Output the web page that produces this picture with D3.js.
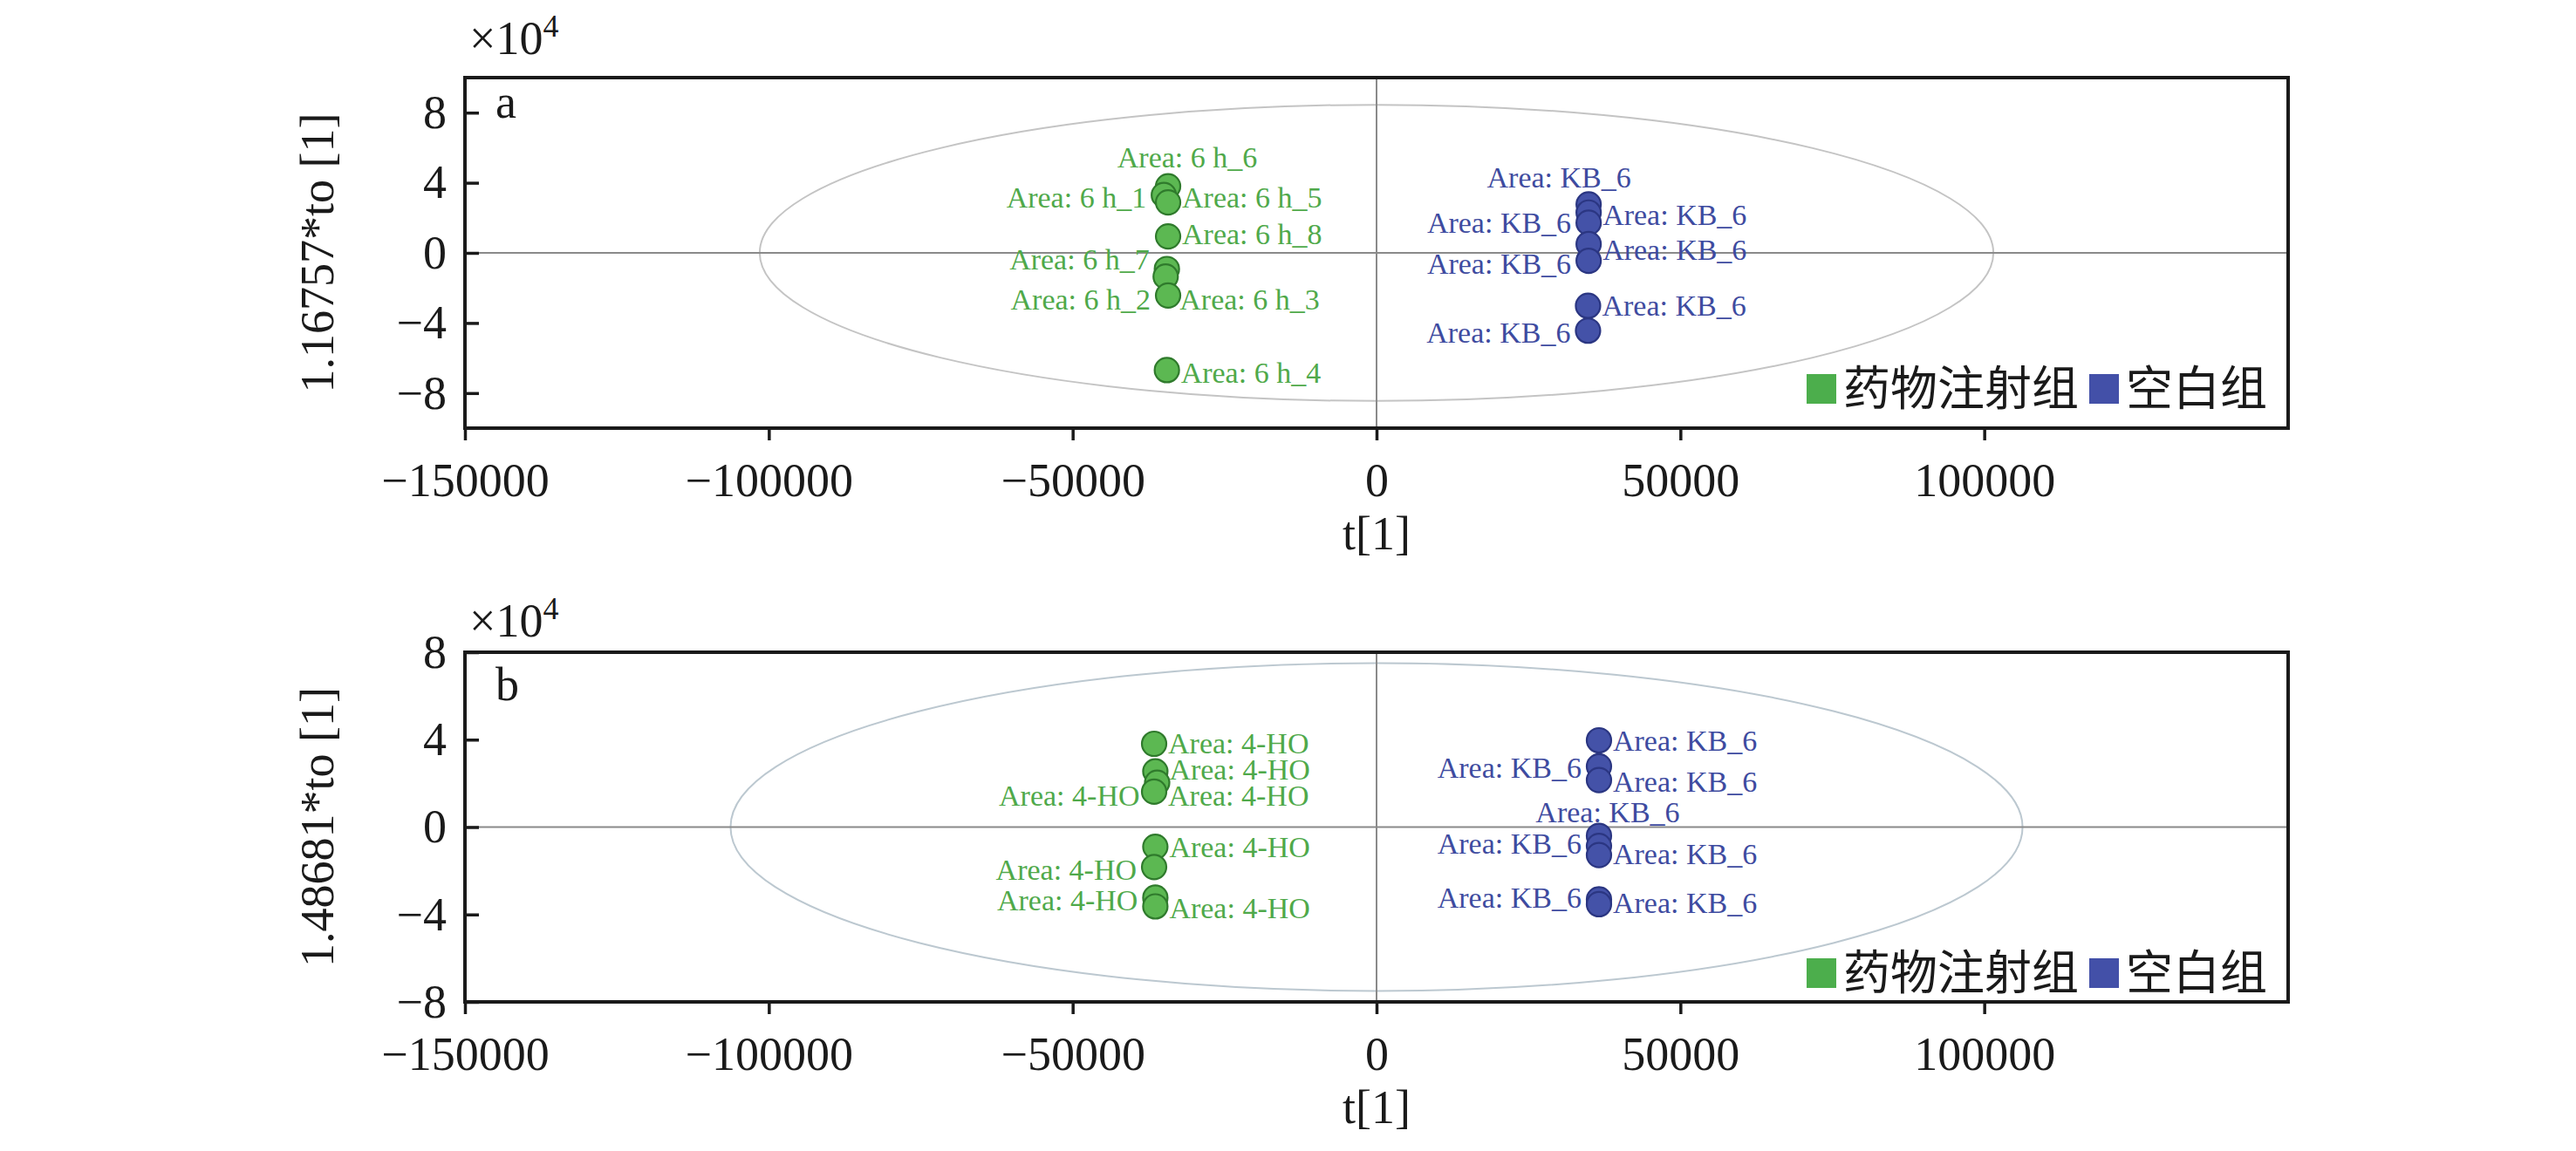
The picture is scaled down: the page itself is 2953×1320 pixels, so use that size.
<!DOCTYPE html>
<html>
<head>
<meta charset="utf-8">
<script src="https://cdn.jsdelivr.net/npm/d3@7"></script>
<style>
  html, body { margin: 0; padding: 0; background: #fff; }
  svg { display: block; }
</style>
</head>
<body>
<svg id="chart" width="2953" height="1320"></svg>
<script>
// ---------------- DATA ----------------
const xTicks = [-150000, -100000, -50000, 0, 50000, 100000];
const yTicksA = [-8, -4, 0, 4, 8];
const yTicksB = [-8, -4, 0, 4, 8];
const xLabel = "t[1]";
const yLabelA = "1.16757*to [1]";
const yLabelB = "1.48681*to [1]";
const legendNames = ["药物注射组", "空白组"];

// Panel a – drug group (药物注射组)
const aDrugNames = ["Area: 6 h_6", "Area: 6 h_1", "Area: 6 h_5", "Area: 6 h_8", "Area: 6 h_7", "Area: 6 h_3", "Area: 6 h_2", "Area: 6 h_4"];
const aDrugT  = [-34300, -35000, -34300, -34300, -34500, -34700, -34300, -34500];
const aDrugTo = [3.80, 3.30, 2.88, 0.94, -0.92, -1.35, -2.43, -6.69];
// Panel a – blank group (空白组)
const aBlankNames = ["Area: KB_6", "Area: KB_6", "Area: KB_6", "Area: KB_6", "Area: KB_6", "Area: KB_6", "Area: KB_6"];
const aBlankT  = [34900, 34900, 34900, 34900, 34900, 34800, 34800];
const aBlankTo = [2.77, 2.30, 1.72, 0.50, -0.45, -3.02, -4.44];
// Panel a – Hotelling ellipse semi-axes
const aEllipse = [101500, 8.45];

// Panel b – drug group
const bDrugNames = ["Area: 4-HO", "Area: 4-HO", "Area: 4-HO", "Area: 4-HO", "Area: 4-HO", "Area: 4-HO", "Area: 4-HO", "Area: 4-HO"];
const bDrugT  = [-36600, -36400, -36100, -36600, -36400, -36600, -36400, -36400];
const bDrugTo = [3.81, 2.55, 2.03, 1.62, -0.90, -1.83, -3.23, -3.63];
// Panel b – blank group
const bBlankNames = ["Area: KB_6", "Area: KB_6", "Area: KB_6", "Area: KB_6", "Area: KB_6", "Area: KB_6", "Area: KB_6", "Area: KB_6"];
const bBlankT  = [36600, 36600, 36600, 36600, 36600, 36600, 36600, 36600];
const bBlankTo = [3.97, 2.78, 2.15, -0.40, -0.86, -1.28, -3.31, -3.53];
// Panel b – Hotelling ellipse semi-axes
const bEllipse = [106300, 7.5];

// ---------------- LABEL LAYOUT (placement only) ----------------
const aDrugSide  = ["T", "L", "R", "R", "L", "R", "L", "R"];
const aDrugDy    = [-33, 3, -5, -2, -11, 27, 5, 3];
const aDrugDx    = [22, 0, 0, 0, 0, 0, 0, 0];
const aBlankSide = ["T", "R", "L", "R", "L", "R", "L"];
const aBlankDy   = [-31, 3, 0, 7, 4, 0, 3];
const aBlankDx   = [-34, 0, 0, 0, 0, 0, 0];
const bDrugSide  = ["R", "R", "L", "R", "R", "L", "L", "R"];
const bDrugDy    = [0, -2, 15, 5, 1, 3, 3, 2];
const bDrugDx    = [0, 0, 0, 0, 0, 0, 0, 0];
const bBlankSide = ["R", "L", "R", "T", "L", "R", "L", "R"];
const bBlankDy   = [1, 2, 2, -27, -2, -1, -2, -1];
const bBlankDx   = [0, 0, 0, 10, 0, 0, 0, 0];

// ---------------- STYLE ----------------
const serif = "'Liberation Serif', 'Times New Roman', serif";
const cjk = "'Noto Sans CJK SC', 'Noto Sans CJK JP', sans-serif";
const green = { fill: "#5cb852", stroke: "#2f7a2c", text: "#4fa94a", legend: "#4cae4c" };
const blue  = { fill: "#4452a8", stroke: "#2b3682", text: "#3e4ba0", legend: "#4350a8" };

const svg = d3.select("#chart");
svg.append("rect").attr("width", 2953).attr("height", 1320).attr("fill", "#fff");

const left = 533, right = 2623;
const x = d3.scaleLinear().domain([-150000, 150000]).range([left, right]);

function zip(names, t, to, side, dy, dx) {
  return names.map((n, i) => ({ name: n, t: t[i], to: to[i], side: side[i], dy: dy[i], dx: dx[i] }));
}

const panels = [
  {
    top: 89, bottom: 491, yDomain: [-10, 10], yTicks: yTicksA, yLabel: yLabelA, letter: "a",
    letterBase: 135, expBase: 62, ellipse: aEllipse, legendGap: 28, ellipseColor: "#c4c4c4",
    groups: [
      { pts: zip(aDrugNames, aDrugT, aDrugTo, aDrugSide, aDrugDy, aDrugDx), c: green },
      { pts: zip(aBlankNames, aBlankT, aBlankTo, aBlankSide, aBlankDy, aBlankDx), c: blue }
    ]
  },
  {
    top: 748, bottom: 1149, yDomain: [-8, 8], yTicks: yTicksB, yLabel: yLabelB, letter: "b",
    letterBase: 803, expBase: 730, ellipse: bEllipse, legendGap: 16, ellipseColor: "#bcc8d0",
    groups: [
      { pts: zip(bDrugNames, bDrugT, bDrugTo, bDrugSide, bDrugDy, bDrugDx), c: green },
      { pts: zip(bBlankNames, bBlankT, bBlankTo, bBlankSide, bBlankDy, bBlankDx), c: blue }
    ]
  }
];

panels.forEach(p => {
  const y = d3.scaleLinear().domain(p.yDomain).range([p.bottom, p.top]);
  const g = svg.append("g");

  // ellipse
  g.append("ellipse")
    .attr("cx", x(0)).attr("cy", y(0))
    .attr("rx", x(p.ellipse[0]) - x(0))
    .attr("ry", y(0) - y(p.ellipse[1]))
    .attr("fill", "none").attr("stroke", p.ellipseColor).attr("stroke-width", 2);

  // zero lines
  g.append("line").attr("x1", left).attr("x2", right).attr("y1", y(0)).attr("y2", y(0))
    .attr("stroke", "#8a8a8a").attr("stroke-width", 2);
  g.append("line").attr("x1", x(0)).attr("x2", x(0)).attr("y1", p.top).attr("y2", p.bottom)
    .attr("stroke", "#8a8a8a").attr("stroke-width", 2);

  // axes
  const xa = g.append("g").attr("transform", `translate(0,${p.bottom})`)
    .call(d3.axisBottom(x).tickValues(xTicks).tickSize(14).tickPadding(26).tickFormat(d3.format("d")));
  xa.select(".domain").remove();
  xa.selectAll(".tick line").attr("stroke", "#1a1a1a").attr("stroke-width", 3.5);
  xa.selectAll(".tick text").attr("font-family", serif).attr("font-size", 54).attr("fill", "#1a1a1a");

  const ya = g.append("g").attr("transform", `translate(${left},0)`)
    .call(d3.axisLeft(y).tickValues(p.yTicks).tickSize(-16).tickPadding(21).tickFormat(d3.format("d")));
  ya.select(".domain").remove();
  ya.selectAll(".tick line").attr("stroke", "#1a1a1a").attr("stroke-width", 3.5);
  ya.selectAll(".tick text").attr("font-family", serif).attr("font-size", 54).attr("fill", "#1a1a1a");

  // frame
  g.append("rect").attr("x", left).attr("y", p.top).attr("width", right - left).attr("height", p.bottom - p.top)
    .attr("fill", "none").attr("stroke", "#1a1a1a").attr("stroke-width", 4);

  // axis titles
  g.append("text").attr("x", x(0)).attr("y", p.bottom + 139)
    .attr("text-anchor", "middle").attr("font-family", serif).attr("font-size", 54).attr("fill", "#1a1a1a")
    .text(xLabel);
  g.append("text")
    .attr("transform", `translate(382,${(p.top + p.bottom) / 2}) rotate(-90)`)
    .attr("text-anchor", "middle").attr("font-family", serif).attr("font-size", 54).attr("fill", "#1a1a1a")
    .text(p.yLabel);

  // ×10^4
  const ex = g.append("text").attr("x", 538).attr("y", p.expBase)
    .attr("font-family", serif).attr("font-size", 54).attr("fill", "#1a1a1a");
  ex.append("tspan").text("×10");
  ex.append("tspan").attr("font-size", 36).attr("dy", -20).text("4");

  // panel letter
  g.append("text").attr("x", 568).attr("y", p.letterBase)
    .attr("font-family", serif).attr("font-size", 54).attr("fill", "#1a1a1a").text(p.letter);

  // points + labels
  p.groups.forEach(grp => {
    const gg = g.append("g");
    gg.selectAll("circle").data(grp.pts).join("circle")
      .attr("cx", d => x(d.t)).attr("cy", d => y(d.to)).attr("r", 14)
      .attr("fill", grp.c.fill).attr("stroke", grp.c.stroke).attr("stroke-width", 2.2);
    gg.selectAll("text").data(grp.pts).join("text")
      .attr("x", d => d.side === "L" ? x(d.t) - 20 : d.side === "R" ? x(d.t) + 16 : x(d.t) + d.dx)
      .attr("y", d => y(d.to) + d.dy)
      .attr("dy", "0.33em")
      .attr("text-anchor", d => d.side === "L" ? "end" : d.side === "R" ? "start" : "middle")
      .attr("font-family", serif).attr("font-size", 34).attr("fill", grp.c.text)
      .text(d => d.name);
  });

  // legend
  const lg = g.append("g");
  const sq = 34, base = p.bottom - p.legendGap;
  let lx = 2071;
  [green, blue].forEach((c, i) => {
    lg.append("rect").attr("x", lx).attr("y", base - sq).attr("width", sq).attr("height", sq).attr("fill", c.legend);
    const t = lg.append("text").attr("x", lx + sq + 8).attr("y", base + 2)
      .attr("font-family", cjk).attr("font-size", 54).attr("fill", "#1a1a1a").text(legendNames[i]);
    lx = lx + sq + 8 + t.node().getComputedTextLength() + 12;
  });
});
</script>
</body>
</html>
